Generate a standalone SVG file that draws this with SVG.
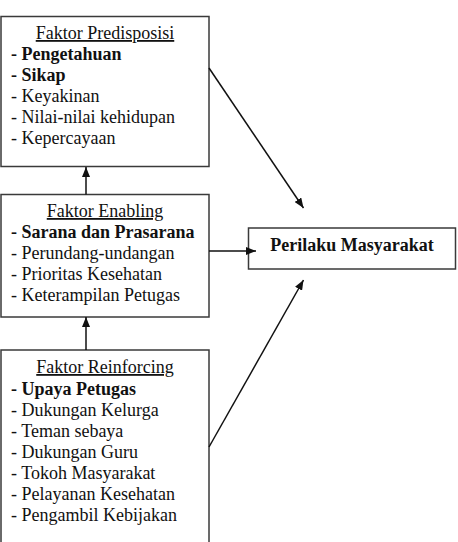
<svg xmlns="http://www.w3.org/2000/svg" width="458" height="542" viewBox="0 0 458 542">
<defs>
<style>
.box{fill:#fff;stroke:#3a3a3a;stroke-width:1.5}
text{font-family:"Liberation Serif","Times New Roman",serif;font-size:18px;fill:#111}
.t{text-anchor:middle;text-decoration:underline}
.b{font-weight:bold}
.c line{stroke:#111;stroke-width:1.5}
</style>
<marker id="ah" viewBox="0 0 10 8" refX="10" refY="4" markerWidth="10" markerHeight="8" markerUnits="userSpaceOnUse" orient="auto">
<path d="M0,0 L10,4 L0,8 Z" fill="#111"/>
</marker>
</defs>
<rect width="458" height="542" fill="#fff"/>
<g id="predisposisi">
<rect class="box" x="1" y="16.5" width="208" height="150"/>
<text class="t" x="105" y="39">Faktor Predisposisi</text>
<text class="b" x="11" y="60">- Pengetahuan</text>
<text class="b" x="11" y="81">- Sikap</text>
<text x="11" y="102">- Keyakinan</text>
<text x="11" y="123">- Nilai-nilai kehidupan</text>
<text x="11" y="144">- Kepercayaan</text>
</g>
<g id="enabling">
<rect class="box" x="1" y="194.5" width="208" height="122.5"/>
<text class="t" x="105" y="217">Faktor Enabling</text>
<text class="b" x="11" y="238">- Sarana dan Prasarana</text>
<text x="11" y="259">- Perundang-undangan</text>
<text x="11" y="280">- Prioritas Kesehatan</text>
<text x="11" y="301">- Keterampilan Petugas</text>
</g>
<g id="reinforcing">
<rect class="box" x="1" y="350" width="208" height="200"/>
<text class="t" x="105" y="373">Faktor Reinforcing</text>
<text class="b" x="11" y="394.5">- Upaya Petugas</text>
<text x="11" y="415.5">- Dukungan Kelurga</text>
<text x="11" y="436.5">- Teman sebaya</text>
<text x="11" y="457.5">- Dukungan Guru</text>
<text x="11" y="478.5">- Tokoh Masyarakat</text>
<text x="11" y="499.5">- Pelayanan Kesehatan</text>
<text x="11" y="520.5">- Pengambil Kebijakan</text>
</g>
<g id="perilaku">
<rect class="box" x="248.5" y="228" width="207" height="41"/>
<text class="b" x="352" y="251" text-anchor="middle">Perilaku Masyarakat</text>
</g>
<g id="connectors" class="c">
<line x1="86" y1="194.5" x2="86" y2="167" marker-end="url(#ah)"/>
<line x1="86" y1="350" x2="86" y2="317" marker-end="url(#ah)"/>
<line x1="209" y1="68" x2="303.5" y2="208" marker-end="url(#ah)"/>
<line x1="209" y1="251" x2="256" y2="251" marker-end="url(#ah)"/>
<line x1="209" y1="447" x2="303.5" y2="280" marker-end="url(#ah)"/>
</g>
</svg>
